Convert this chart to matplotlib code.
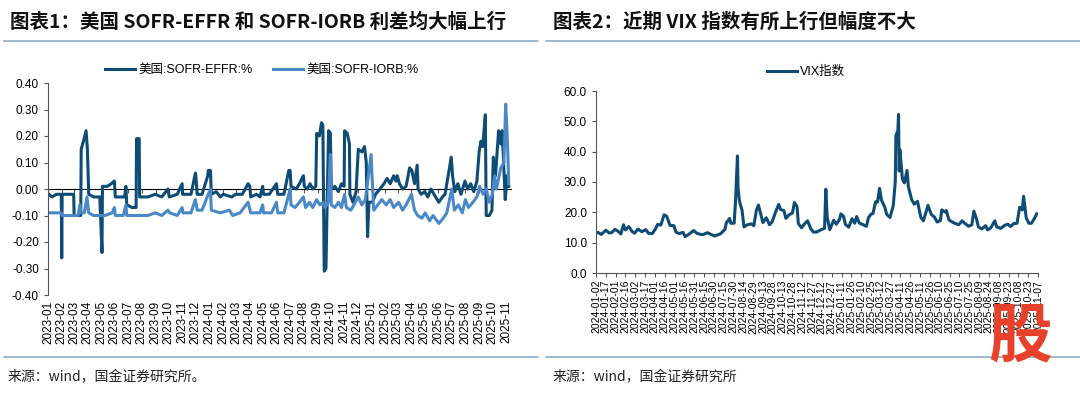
import matplotlib
matplotlib.use("Agg")
import matplotlib.pyplot as plt
from matplotlib.lines import Line2D
import pandas as pd

plt.rcParams['font.family'] = ['Liberation Sans', 'Noto Sans CJK SC']
CJK = ['Noto Sans CJK SC', 'DejaVu Sans']

DARK = '#0f4c75'
LIGHT = '#4a88c7'
RULE = '#8eaec6'

# ---- chart 1: SOFR-EFFR and SOFR-IORB, %
effr_dates = [
    '2023-01-03', '2023-01-10', '2023-01-20', '2023-01-31', '2023-02-01', '2023-02-02',
    '2023-02-15', '2023-02-28', '2023-03-01', '2023-03-16', '2023-03-17', '2023-03-22',
    '2023-03-28', '2023-03-31', '2023-04-03', '2023-04-14', '2023-04-28', '2023-05-03',
    '2023-05-04', '2023-05-15', '2023-05-24', '2023-05-31', '2023-06-02', '2023-06-15',
    '2023-06-23', '2023-06-26', '2023-06-28', '2023-07-10', '2023-07-19', '2023-07-20',
    '2023-07-26', '2023-07-27', '2023-08-15', '2023-08-31', '2023-09-15', '2023-09-29',
    '2023-10-02', '2023-10-20', '2023-10-31', '2023-11-01', '2023-11-20', '2023-11-30',
    '2023-12-01', '2023-12-04', '2023-12-15', '2023-12-28', '2023-12-29', '2024-01-03',
    '2024-01-05', '2024-01-16', '2024-01-25', '2024-02-01', '2024-02-20', '2024-02-29',
    '2024-03-15', '2024-03-28', '2024-04-01', '2024-04-03', '2024-04-16', '2024-04-24',
    '2024-04-30', '2024-05-02', '2024-05-15', '2024-05-31', '2024-06-03', '2024-06-17',
    '2024-06-28', '2024-07-01', '2024-07-03', '2024-07-15', '2024-07-22', '2024-07-31',
    '2024-08-02', '2024-08-09', '2024-08-15', '2024-08-21', '2024-08-28', '2024-08-30',
    '2024-09-05', '2024-09-10', '2024-09-13', '2024-09-16', '2024-09-20', '2024-09-23',
    '2024-09-26', '2024-09-30', '2024-10-02', '2024-10-10', '2024-10-18', '2024-10-25',
    '2024-10-31', '2024-11-01', '2024-11-07', '2024-11-12', '2024-11-13', '2024-11-20',
    '2024-11-27', '2024-12-02', '2024-12-10', '2024-12-16', '2024-12-20', '2024-12-23',
    '2024-12-26', '2025-01-03', '2025-01-10', '2025-01-20', '2025-01-29', '2025-02-05',
    '2025-02-12', '2025-02-20', '2025-02-25', '2025-02-28', '2025-03-05', '2025-03-12',
    '2025-03-20', '2025-03-28', '2025-04-02', '2025-04-08', '2025-04-14', '2025-04-16',
    '2025-04-23', '2025-05-01', '2025-05-08', '2025-05-15', '2025-05-22', '2025-06-02',
    '2025-06-10', '2025-06-16', '2025-06-30', '2025-07-03', '2025-07-08', '2025-07-15',
    '2025-07-22', '2025-07-31', '2025-08-06', '2025-08-13', '2025-08-20', '2025-08-27',
    '2025-09-01', '2025-09-05', '2025-09-09', '2025-09-15', '2025-09-17', '2025-09-24',
    '2025-09-30', '2025-10-03', '2025-10-08', '2025-10-15', '2025-10-20', '2025-10-23',
    '2025-10-30', '2025-11-03', '2025-11-07',
]
effr_vals = [
    -0.02, -0.03, -0.02, -0.02, -0.26, -0.02,
    -0.02, -0.02, -0.10, -0.10, 0.15, 0.18,
    0.22, 0.15, -0.02, -0.03, -0.03, -0.24,
    0.01, 0.01, 0.02, 0.03, -0.03, -0.03,
    -0.03, 0.01, -0.06, -0.07, -0.07, 0.19,
    0.19, -0.03, -0.03, -0.02, -0.03, 0.00,
    -0.03, -0.02, 0.02, -0.02, -0.02, 0.06,
    0.05, -0.02, -0.02, 0.05, 0.07, 0.07,
    -0.02, -0.01, -0.03, -0.02, -0.03, -0.02,
    -0.02, 0.02, 0.01, -0.03, -0.02, -0.03,
    0.01, -0.02, -0.02, 0.02, -0.02, -0.02,
    0.07, 0.07, 0.01, 0.00, 0.02, 0.05,
    0.01, 0.00, 0.02, 0.00, 0.01, 0.21,
    0.20, 0.25, 0.24, -0.31, -0.30, -0.02,
    0.22, 0.21, 0.00, 0.01, -0.01, 0.02,
    0.01, 0.22, 0.21, 0.17, -0.02, -0.05,
    -0.01, 0.15, 0.14, 0.16, 0.10, -0.18,
    -0.05, -0.05, -0.02, 0.00, 0.02, 0.04,
    0.02, 0.05, 0.03, 0.05, 0.02, 0.00,
    0.01, 0.08, 0.07, 0.02, 0.09, 0.00,
    -0.02, -0.01, -0.03, 0.00, -0.02, -0.05,
    -0.03, -0.02, 0.12, 0.05, -0.01, 0.02,
    -0.02, 0.03, 0.00, 0.02, -0.01, 0.03,
    0.14, 0.18, 0.16, 0.28, -0.10, -0.10,
    -0.08, 0.12, 0.05, 0.22, 0.17, 0.22,
    -0.04, 0.05, 0.01,
]

iorb_dates = [
    '2023-01-03', '2023-01-31', '2023-02-02', '2023-02-28', '2023-03-10', '2023-03-14',
    '2023-03-16', '2023-03-24', '2023-03-30', '2023-04-03', '2023-04-14', '2023-05-10',
    '2023-05-26', '2023-05-31', '2023-06-02', '2023-06-20', '2023-06-26', '2023-06-28',
    '2023-07-20', '2023-08-15', '2023-08-31', '2023-09-15', '2023-09-29', '2023-10-03',
    '2023-10-20', '2023-10-31', '2023-11-02', '2023-11-20', '2023-11-30', '2023-12-04',
    '2023-12-15', '2023-12-29', '2024-01-03', '2024-01-05', '2024-01-25', '2024-02-15',
    '2024-02-22', '2024-03-10', '2024-03-28', '2024-04-03', '2024-04-24', '2024-04-30',
    '2024-05-02', '2024-05-20', '2024-05-31', '2024-06-03', '2024-06-17', '2024-06-28',
    '2024-07-01', '2024-07-03', '2024-07-12', '2024-07-22', '2024-07-31', '2024-08-05',
    '2024-08-14', '2024-08-21', '2024-08-30', '2024-09-06', '2024-09-13', '2024-09-18',
    '2024-09-25', '2024-09-30', '2024-10-02', '2024-10-10', '2024-10-18', '2024-10-25',
    '2024-11-01', '2024-11-05', '2024-11-15', '2024-11-22', '2024-12-02', '2024-12-10',
    '2024-12-18', '2024-12-31', '2025-01-02', '2025-01-06', '2025-01-15', '2025-01-24',
    '2025-02-03', '2025-02-12', '2025-02-20', '2025-03-03', '2025-03-12', '2025-03-20',
    '2025-04-01', '2025-04-08', '2025-04-15', '2025-04-25', '2025-05-02', '2025-05-12',
    '2025-05-20', '2025-06-02', '2025-06-12', '2025-06-20', '2025-07-01', '2025-07-07',
    '2025-07-16', '2025-07-25', '2025-08-01', '2025-08-08', '2025-08-18', '2025-08-27',
    '2025-09-02', '2025-09-10', '2025-09-17', '2025-09-24', '2025-10-01', '2025-10-06',
    '2025-10-10', '2025-10-20', '2025-10-27', '2025-10-31', '2025-11-03', '2025-11-07',
]
iorb_vals = [
    -0.09, -0.09, -0.10, -0.10, -0.10, -0.06,
    -0.09, -0.09, -0.03, -0.09, -0.10, -0.10,
    -0.09, -0.07, -0.10, -0.10, -0.06, -0.10,
    -0.10, -0.10, -0.09, -0.10, -0.08, -0.09,
    -0.10, -0.07, -0.09, -0.09, -0.04, -0.08,
    -0.08, -0.02, 0.00, -0.08, -0.09, -0.08,
    -0.10, -0.09, -0.05, -0.09, -0.09, -0.06,
    -0.09, -0.09, -0.05, -0.09, -0.09, -0.02,
    0.00, -0.06, -0.07, -0.05, -0.03, -0.07,
    -0.05, -0.07, -0.04, -0.06, -0.05, -0.07,
    -0.05, 0.13, -0.06, -0.07, -0.05, -0.07,
    -0.02, -0.07, -0.08, -0.06, -0.03, -0.06,
    -0.04, 0.13, 0.05, -0.08, -0.06, -0.04,
    -0.06, -0.04, -0.07, -0.05, -0.08, -0.06,
    -0.02, -0.08, -0.10, -0.11, -0.09, -0.12,
    -0.10, -0.13, -0.11, -0.09, 0.00, -0.08,
    -0.06, -0.09, -0.04, -0.07, -0.05, -0.03,
    0.01, -0.02, 0.00, -0.05, -0.02, 0.05,
    0.00, 0.08, 0.10, 0.32, 0.22, 0.02,
]

# ---- chart 2: VIX
vix_dates = [
    '2024-01-02', '2024-01-05', '2024-01-10', '2024-01-17', '2024-01-22', '2024-01-26',
    '2024-01-31', '2024-02-05', '2024-02-09', '2024-02-13', '2024-02-16', '2024-02-21',
    '2024-02-26', '2024-03-01', '2024-03-06', '2024-03-12', '2024-03-18', '2024-03-22',
    '2024-03-28', '2024-04-02', '2024-04-05', '2024-04-10', '2024-04-15', '2024-04-19',
    '2024-04-24', '2024-04-30', '2024-05-03', '2024-05-08', '2024-05-14', '2024-05-17',
    '2024-05-23', '2024-05-30', '2024-06-04', '2024-06-10', '2024-06-14', '2024-06-20',
    '2024-06-25', '2024-07-01', '2024-07-05', '2024-07-10', '2024-07-17', '2024-07-19',
    '2024-07-24', '2024-07-26', '2024-07-31', '2024-08-02', '2024-08-05', '2024-08-06',
    '2024-08-08', '2024-08-12', '2024-08-15', '2024-08-20', '2024-08-26', '2024-08-30',
    '2024-09-03', '2024-09-06', '2024-09-10', '2024-09-13', '2024-09-18', '2024-09-23',
    '2024-09-27', '2024-10-03', '2024-10-07', '2024-10-10', '2024-10-15', '2024-10-18',
    '2024-10-23', '2024-10-28', '2024-10-31', '2024-11-04', '2024-11-06', '2024-11-11',
    '2024-11-15', '2024-11-20', '2024-11-25', '2024-11-29', '2024-12-04', '2024-12-10',
    '2024-12-16', '2024-12-18', '2024-12-20', '2024-12-24', '2024-12-30', '2025-01-03',
    '2025-01-08', '2025-01-10', '2025-01-14', '2025-01-17', '2025-01-22', '2025-01-27',
    '2025-01-31', '2025-02-03', '2025-02-07', '2025-02-12', '2025-02-18', '2025-02-21',
    '2025-02-25', '2025-02-28', '2025-03-04', '2025-03-07', '2025-03-10', '2025-03-13',
    '2025-03-18', '2025-03-21', '2025-03-26', '2025-03-31', '2025-04-03', '2025-04-04',
    '2025-04-07', '2025-04-08', '2025-04-09', '2025-04-10', '2025-04-14', '2025-04-17',
    '2025-04-21', '2025-04-23', '2025-04-28', '2025-05-02', '2025-05-07', '2025-05-12',
    '2025-05-16', '2025-05-21', '2025-05-23', '2025-05-28', '2025-06-02', '2025-06-06',
    '2025-06-11', '2025-06-13', '2025-06-18', '2025-06-20', '2025-06-24', '2025-06-30',
    '2025-07-03', '2025-07-09', '2025-07-14', '2025-07-18', '2025-07-24', '2025-07-29',
    '2025-08-01', '2025-08-05', '2025-08-08', '2025-08-13', '2025-08-19', '2025-08-22',
    '2025-08-27', '2025-09-02', '2025-09-05', '2025-09-11', '2025-09-17', '2025-09-22',
    '2025-09-26', '2025-10-01', '2025-10-06', '2025-10-10', '2025-10-14', '2025-10-16',
    '2025-10-20', '2025-10-24', '2025-10-28', '2025-10-31', '2025-11-04', '2025-11-05',
]
vix_vals = [
    13.2, 13.4, 12.7, 14.1, 13.2, 13.3,
    14.4, 13.7, 12.9, 15.9, 14.2, 15.3,
    13.7, 13.1, 14.5, 13.6, 14.3, 13.1,
    13.0, 14.6, 16.0, 15.8, 19.2, 18.7,
    15.7, 15.6, 13.5, 13.0, 13.4, 12.0,
    12.8, 14.0, 13.1, 12.7, 12.7, 13.3,
    12.8, 12.2, 12.5, 12.9, 14.4, 16.5,
    18.0, 16.4, 16.4, 23.4, 38.6, 27.7,
    23.8, 20.7, 15.2, 15.9, 16.2, 15.6,
    20.7, 22.4, 19.1, 16.6, 18.2, 15.9,
    16.9, 20.5, 22.6, 20.9, 20.6, 18.0,
    19.2, 19.8, 23.2, 21.9, 16.3, 14.9,
    16.1, 17.2, 14.6, 13.5, 13.5, 14.2,
    14.7, 27.6, 18.4, 14.3, 17.4, 16.1,
    17.7, 19.5, 18.7, 16.0, 15.1, 17.9,
    16.4, 18.6, 16.5, 16.0, 15.4, 18.2,
    19.4, 19.6, 23.5, 23.4, 27.9, 24.0,
    21.7, 19.3, 18.3, 22.3, 30.0, 45.3,
    47.0, 52.3, 33.6, 40.7, 30.9, 29.7,
    33.8, 28.5, 24.2, 22.7, 23.6, 18.4,
    17.2, 20.9, 22.3, 19.3, 18.4, 16.8,
    17.3, 20.8, 20.1, 20.6, 17.5, 16.7,
    16.4, 15.9, 17.2, 16.4, 15.4, 15.9,
    20.4, 17.9, 15.2, 14.5, 15.6, 14.2,
    14.9, 17.2, 15.2, 14.7, 15.7, 16.1,
    15.3, 16.3, 16.4, 21.7, 20.8, 25.3,
    18.2, 16.4, 16.4, 17.4, 19.0, 19.5,
]

effr = pd.Series(effr_vals, index=pd.to_datetime(effr_dates))
iorb = pd.Series(iorb_vals, index=pd.to_datetime(iorb_dates))
vix = pd.Series(vix_vals, index=pd.to_datetime(vix_dates))

fig = plt.figure(figsize=(10.8, 3.93), dpi=100)

# titles, rules, sources
fig.text(10 / 1080, 1 - 22 / 393, '图表1：美国 SOFR-EFFR 和 SOFR-IORB 利差均大幅上行',
         family=CJK, fontsize=14, fontweight='bold', va='center', color='#111111')
fig.text(553 / 1080, 1 - 22 / 393, '图表2：近期 VIX 指数有所上行但幅度不大',
         family=CJK, fontsize=14, fontweight='bold', va='center', color='#111111')
for y in (41, 357):
    fig.add_artist(Line2D([4 / 1080, 538 / 1080], [1 - y / 393] * 2, color=RULE, lw=1.2))
    fig.add_artist(Line2D([546 / 1080, 1.0], [1 - y / 393] * 2, color=RULE, lw=1.2))
fig.text(8 / 1080, 1 - 377 / 393, '来源：wind，国金证券研究所。', family=CJK,
         fontsize=10, va='center', color='#222222')
fig.text(553 / 1080, 1 - 377 / 393, '来源：wind，国金证券研究所', family=CJK,
         fontsize=10, va='center', color='#222222')

# left chart
ax1 = fig.add_axes([48 / 1080, 98 / 393, 463 / 1080, 212 / 393])
ax1.plot(effr.index, effr.values, color=DARK, lw=2.2, label='美国:SOFR-EFFR:%')
ax1.plot(iorb.index, iorb.values, color=LIGHT, lw=2.2, label='美国:SOFR-IORB:%')
ax1.set_ylim(-0.40, 0.40)
ax1.set_xlim(pd.Timestamp('2023-01-01'), pd.Timestamp('2025-11-12'))
ax1.set_yticks([0.40, 0.30, 0.20, 0.10, 0.00, -0.10, -0.20, -0.30, -0.40])
ax1.yaxis.set_major_formatter(plt.FormatStrFormatter('%.2f'))
months = pd.date_range('2023-01-01', '2025-11-01', freq='MS')
ax1.set_xticks(months)
ax1.set_xticklabels([m.strftime('%Y-%m') for m in months], rotation=90)
ax1.tick_params(axis='x', length=0, labelsize=8.5, pad=4)
ax1.tick_params(axis='y', length=3, labelsize=8.5, color='#555555')
for s in ('top', 'right', 'bottom'):
    ax1.spines[s].set_visible(False)
ax1.spines['left'].set_color('#555555')
zero = ax1.secondary_xaxis(0.5)
zero.set_xticks(months)
zero.tick_params(direction='in', length=3, labelbottom=False, color='#555555')
zero.set_xticklabels([])
zero.spines['bottom'].set_color('#555555')
ax1.legend(loc='center', bbox_to_anchor=(262 / 1080, 1 - 70 / 393),
           bbox_transform=fig.transFigure, ncol=2, frameon=False, fontsize=9,
           handlelength=2.4, handletextpad=0.3, columnspacing=1.6)

# right chart
ax2 = fig.add_axes([596 / 1080, 120 / 393, 442 / 1080, 182 / 393])
ax2.plot(vix.index, vix.values, color=DARK, lw=2.2, label='VIX指数')
ax2.set_ylim(0, 60)
ax2.set_xlim(pd.Timestamp('2024-01-02'), pd.Timestamp('2025-11-07'))
ax2.set_yticks(range(0, 61, 10))
ax2.yaxis.set_major_formatter(plt.FormatStrFormatter('%.1f'))
days = pd.date_range('2024-01-02', '2025-11-07', freq='15D')
ax2.set_xticks(days)
ax2.set_xticklabels([d.strftime('%Y-%m-%d') for d in days], rotation=90)
ax2.tick_params(axis='x', length=3, labelsize=7.5, pad=2, color='#555555')
ax2.tick_params(axis='y', length=3, labelsize=8.5, color='#555555')
for s in ('top', 'right'):
    ax2.spines[s].set_visible(False)
ax2.spines['left'].set_color('#555555')
ax2.spines['bottom'].set_color('#555555')
ax2.legend(loc='center', bbox_to_anchor=(806 / 1080, 1 - 72 / 393),
           bbox_transform=fig.transFigure, frameon=False, fontsize=9,
           handlelength=2.4, handletextpad=0.3)

# watermark
fig.text(1020 / 1080, 1 - 337 / 393, '股', family=CJK, fontsize=46, fontweight='heavy',
         color='#e8412b', ha='center', va='center')

fig.savefig('out.png', dpi=100)
